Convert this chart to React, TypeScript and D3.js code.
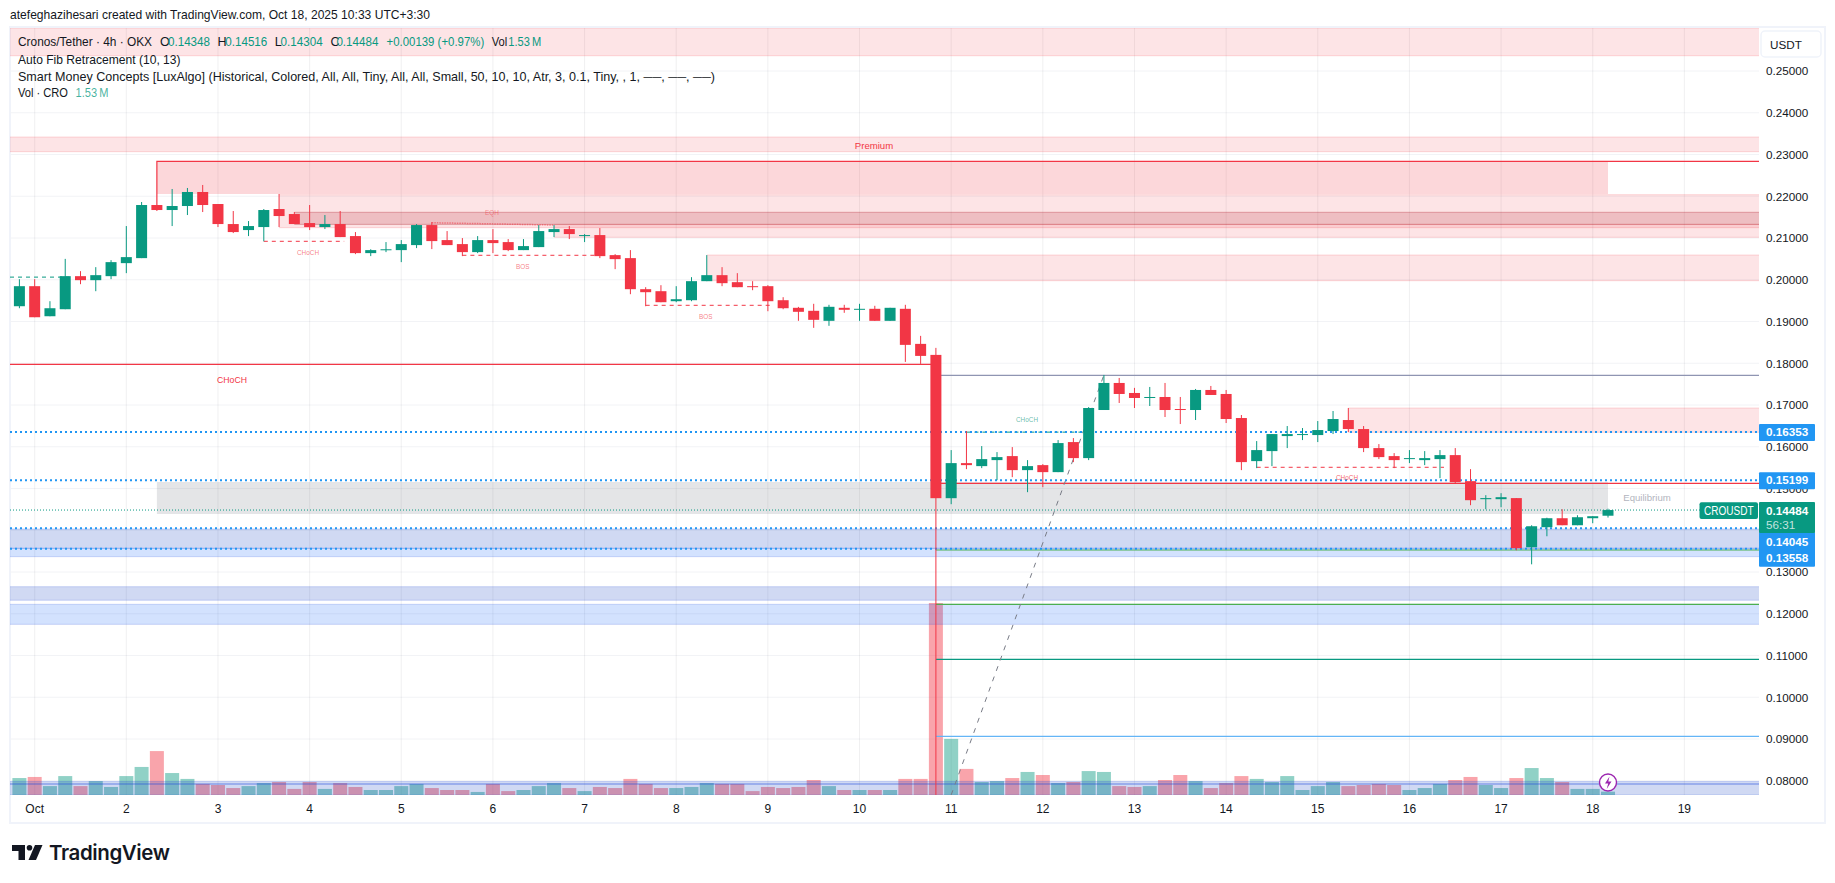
import React from "react";
import * as d3 from "d3";

const opens = [.19366,.19846,.19126,.19294,.20086,.1999,.20086,.20398,.20518,.2179,.2167,.21766,.22102,.21814,.21334,.2119,.21262,.21694,.21574,.21358,.21262,.21334,.21046,.20638,.20706,.2071,.2083,.2131,.2095,.20854,.20662,.2095,.20902,.2071,.20782,.21142,.21214,.21046,.2107,.2059,.20518,.19774,.19726,.19486,.1951,.19966,.2011,.19942,.19846,.19846,.1951,.19328,.19256,.19016,.19328,.1928,.19304,.19016,.19304,.18464,.182,.14768,.15608,.15536,.1568,.15776,.1544,.1556,.15392,.16112,.15728,.1688,.17528,.17288,.17168,.17192,.16904,.1688,.1736,.17264,.16688,.15656,.15896,.16256,.1628,.1628,.16376,.1664,.16424,.15968,.15776,.15704,.1568,.15704,.158,.15176,.14744,.14744,.1477,.13592,.14072,.14288,.1412,.14288,.14348];
const closes = [.19846,.19102,.19318,.20086,.1999,.2011,.20422,.20542,.2179,.2167,.21766,.22102,.2179,.21334,.21142,.21286,.2167,.21526,.21334,.21262,.21334,.21022,.20638,.2071,.2073,.20854,.2131,.20926,.2083,.20662,.2095,.20878,.2071,.20806,.21166,.21214,.21094,.2107,.20566,.20494,.19774,.19702,.19462,.19534,.19966,.2011,.19918,.19822,.19822,.19486,.19318,.19232,.1904,.19352,.1928,.19304,.19016,.19328,.1844,.18176,.14768,.15608,.1556,.15704,.15752,.1544,.15536,.15392,.16088,.15728,.16928,.17528,.17264,.17168,.17192,.1688,.1688,.1736,.1724,.16664,.15632,.1592,.16304,.16304,.16304,.164,.16664,.16424,.15968,.15752,.1568,.15728,.15728,.158,.15152,.1472,.1477,.14792,.1357,.14096,.14288,.1412,.14312,.14336,.14484];
const highs = [.20014,.20014,.19486,.2050,.20206,.20302,.2047,.21286,.21862,.2179,.22174,.22198,.2227,.21814,.21646,.21406,.21694,.22054,.21622,.2179,.2155,.21646,.21142,.2073,.20902,.2095,.21334,.21382,.21166,.20998,.21046,.21214,.20974,.20974,.2131,.2131,.21286,.21094,.21238,.20614,.2071,.19822,.1987,.19846,.20062,.2059,.20302,.20158,.19966,.1987,.19582,.1935,.19424,.194,.194,.19424,.19376,.19328,.194,.18656,.18368,.1592,.16376,.16016,.15872,.15992,.1568,.15584,.1616,.16208,.1695,.1772,.17648,.1741,.17432,.17528,.17192,.17384,.17456,.1736,.1676,.16136,.16304,.16496,.16448,.16616,.16856,.16928,.16496,.16064,.15848,.1592,.15896,.1592,.15968,.15464,.1484,.14888,.1477,.1412,.143,.14504,.1436,.14336,.14516];
const lows = [.19318,.19102,.19126,.19294,.19894,.19726,.20014,.20158,.20518,.21646,.21286,.2155,.21622,.21262,.21118,.21046,.2092,.21262,.21334,.2119,.21214,.21022,.20614,.20566,.20662,.20422,.20758,.20734,.2083,.20566,.20638,.20638,.20686,.2071,.20782,.21022,.20974,.20902,.20518,.20254,.19654,.19366,.19462,.19462,.19486,.19966,.19846,.19822,.1975,.19246,.19294,.19016,.18848,.18896,.19208,.19016,.19016,.19016,.18032,.17984,.0766,.14624,.15464,.15488,.152,.15272,.14912,.15032,.15392,.15632,.1568,.1688,.17048,.16928,.16976,.16712,.16544,.1664,.1724,.16568,.1544,.15488,.15536,.15968,.1616,.16112,.16304,.16352,.15872,.15704,.15488,.15608,.1556,.15248,.15128,.146,.14504,.14552,.1352,.13184,.13856,.1412,.1412,.14168,.14304];
const volumes = [7.8,8.3,4.1,8.7,4.1,6.4,3.7,8.7,12.9,20.2,10.1,7.4,5.1,4.6,3.2,4.1,5.5,6,2.8,6,2.8,5.5,3.7,2.3,2.3,4.1,5.1,3.2,2.3,2.3,1.4,5.1,1.8,2.3,4.1,5.5,3.2,1.8,3.7,3.2,7.4,5.1,3.2,3.2,3.7,5.5,5.1,5.1,1.8,3.7,3.2,3.7,6.9,4.1,2.3,2.3,2.3,2.3,7.4,7.4,88.3,25.8,12,6,6.4,7.8,10.6,9.2,5.5,6,11,10.6,4.1,3.7,4.1,6.9,9.2,6.4,3.2,5.5,8.7,7.4,6,8.7,2.3,4.1,6,4.1,4.6,5.1,4.6,2.3,3.2,5.1,6.9,8.3,4.6,3.2,7.8,12.4,7.8,6,2.8,2.8,1.53];

const priceTicks = [.25,.24,.23,.22,.21,.20,.19,.18,.17,.16,.15,.14,.13,.12,.11,.10,.09,.08];
const dayLabels = ["Oct","2","3","4","5","6","7","8","9","10","11","12","13","14","15","16","17","18","19"];

// zones: start bar (null = left edge), upper price, lower price
const redZoneStart = [null, null, 17, 35, 45, 87];
const redZoneTop = [.2603, .23419, .22037, .21326, .20593, .16928];
const redZoneBottom = [.25366, .23067, .21247, .21017, .19977, .16346];
const blueZoneTop = [.1403, .13567, .12648, .12226, .07982];
const blueZoneBottom = [.13567, .13367, .12323, .11747, .0766];
const blueZoneFill = ["rgba(33,76,200,0.21)", "rgba(33,110,250,0.2)", "rgba(33,76,200,0.21)", "rgba(33,110,250,0.2)", "rgba(33,76,200,0.21)"];

const fibPrices = [.17711, .15125, .13527, .12226, .10909, .09065];
const fibColors = ["#8f95b2", "#f23645", "#4caf50", "#4caf50", "#089981", "#64b5f6"];
const dottedLevels = [.16353, .15199, .14045, .13558];
const levelLabels = ["0.16353", "0.15199", "0.14045", "0.13558"];

const structBars = [[-1, 3], [16, 21], [29, 38], [41, 49], [62, 70], [81, 93]];
const structPrice = [.20063, .20921, .20586, .19388, .1635, .15508];
const structColor = ["#089981", "#f23645", "#f23645", "#f23645", "#089981", "#f23645"];
const structText = ["", "CHoCH", "BOS", "BOS", "CHoCH", "CHoCH"];

const W = 1835, H = 883;
const FONT = "'Liberation Sans', Arial, sans-serif";
const PL = 10, PR = 1759, PT = 28, PB = 795;

const y = d3.scaleLinear().domain([.25, .08]).range([71, 780.75]);
const x = d3.scaleLinear().domain([0, 1]).range([19.4, 34.675]);
const vy = d3.scaleLinear().domain([0, 88.3]).range([PB, 603]);

const UP = "#089981", DOWN = "#f23645";
const isUp = (i: number) => closes[i] >= opens[i];
const seg = d3.line<[number, number]>().x(d => d[0]).y(d => d[1]);
const tagLabelY = [y(.16353) + 4.3, y(.15199) + 4.3, 546, 562.3];

function Zone({ x0, x1, top, bottom, fill, stroke }: any) {
  return <g>
    <rect x={x0} y={y(top)} width={x1 - x0} height={y(bottom) - y(top)} fill={fill} />
    <line x1={x0} x2={x1} y1={y(top)} y2={y(top)} stroke={stroke} />
    <line x1={x0} x2={x1} y1={y(bottom)} y2={y(bottom)} stroke={stroke} />
  </g>;
}

function T({ x: tx, y: ty, w, fill, children }: any) {
  return <text x={tx} y={ty} fill={fill} textLength={w} lengthAdjust="spacingAndGlyphs">{children}</text>;
}

export default function App() {
  const idx = d3.range(opens.length);
  return (
    <svg width={W} height={H} viewBox={`0 0 ${W} ${H}`} style={{ position: "absolute", left: 0, top: 0, display: "block", background: "#fff" }} fontFamily={FONT}>
      <defs><clipPath id="pane"><rect x={PL} y={PT} width={PR - PL} height={PB - PT} /></clipPath></defs>

      <text x={10} y={19} fontSize={13} fill="#131722" textLength={420} lengthAdjust="spacingAndGlyphs">atefeghazihesari created with TradingView.com, Oct 18, 2025 10:33 UTC+3:30</text>
      <rect x={10} y={27} width={1815} height={796} fill="none" stroke="#f0f3fa" strokeWidth={2} />

      {/* grid */}
      {priceTicks.map(t => <line key={t} x1={PL} x2={PR} y1={y(t)} y2={y(t)} stroke="#f2f3f6" strokeWidth={1} />)}
      {dayLabels.map((d, k) => <line key={d} x1={x(1 + 6 * k)} x2={x(1 + 6 * k)} y1={PT} y2={PB} stroke="rgba(42,46,57,0.07)" strokeWidth={1} />)}

      {/* volume */}
      {idx.map(i => <rect key={i} x={x(i) - 7} y={vy(volumes[i])} width={14} height={PB - vy(volumes[i])} fill={isUp(i) ? "rgba(8,153,129,0.45)" : "rgba(242,54,69,0.45)"} />)}

      <g clipPath="url(#pane)">
        {/* premium / supply zones */}
        {redZoneTop.map((t, i) => {
          const s = redZoneStart[i];
          return <Zone key={i} x0={s === null ? PL : x(s)} x1={PR} top={t} bottom={redZoneBottom[i]} fill="rgba(242,54,69,0.135)" stroke="rgba(242,54,69,0.18)" />;
        })}
        <Zone x0={x(18)} x1={PR} top={.21616} bottom={.21326} fill="rgba(178,40,51,0.2)" stroke="rgba(178,40,51,0.35)" />
        <rect x={x(9)} y={y(.22837)} width={x(104) - x(9)} height={y(.22054) - y(.22837)} fill="rgba(242,54,69,0.2)" />
        <path d={seg([[x(9), y(.2179)], [x(9), y(.22837)], [PR, y(.22837)]])!} fill="none" stroke="#f23645" strokeWidth={1.2} />

        {/* equilibrium and demand zones */}
        <rect x={x(9)} y={y(.15156)} width={x(104) - x(9)} height={y(.14389) - y(.15156)} fill="rgba(120,123,134,0.2)" />
        {blueZoneTop.map((t, i) => <Zone key={i} x0={PL} x1={PR} top={t} bottom={blueZoneBottom[i]} fill={blueZoneFill[i]} stroke="rgba(33,76,220,0.2)" />)}
        <line x1={PL} x2={PR} y1={y(.07922)} y2={y(.07922)} stroke="rgba(33,76,220,0.4)" strokeWidth={1.5} />

        {/* fib and structure lines */}
        <line x1={PL} x2={x(60)} y1={y(.17975)} y2={y(.17975)} stroke="#f23645" strokeWidth={1.2} />
        {fibPrices.map((p, i) => <line key={i} x1={x(60)} x2={PR} y1={y(p)} y2={y(p)} stroke={fibColors[i]} strokeWidth={1.2} />)}
        <path d={seg([[x(61), y(.0766)], [x(71), y(.1772)]])!} stroke="#787b86" strokeWidth={1} strokeDasharray="5 6" fill="none" />
        {structPrice.map((p, i) => <line key={i} x1={structBars[i][0] < 0 ? PL : x(structBars[i][0])} x2={x(structBars[i][1]) + 4} y1={y(p)} y2={y(p)} stroke={structColor[i]} strokeWidth={1} strokeDasharray="4 4" />)}
        <line x1={x(27)} x2={x(35)} y1={y(.21366)} y2={y(.21311)} stroke="rgba(242,54,69,0.55)" strokeWidth={1.5} strokeDasharray="1.5 1" />

        {/* levels */}
        {dottedLevels.map(p => <line key={p} x1={PL} x2={PR} y1={y(p)} y2={y(p)} stroke="#2196f3" strokeWidth={2} strokeDasharray="2 3" />)}
        <line x1={PL} x2={PR} y1={y(.14484)} y2={y(.14484)} stroke="#089981" strokeWidth={1} strokeDasharray="1 2" />

        {/* candles */}
        {idx.map(i => {
          const c = isUp(i) ? UP : DOWN;
          const top = y(Math.max(opens[i], closes[i]));
          const bot = y(Math.min(opens[i], closes[i]));
          return <g key={i}>
            <line x1={x(i)} x2={x(i)} y1={y(highs[i])} y2={y(lows[i])} stroke={c} strokeWidth={1} />
            <rect x={x(i) - 5.5} y={top} width={11} height={Math.max(bot - top, 1)} fill={c} />
          </g>;
        })}
      </g>

      {/* zone labels */}
      <text x={874} y={149} fontSize={9.6} fill="#f23645" textAnchor="middle">Premium</text>
      <text x={232} y={383} fontSize={8.7} fill="#f23645" textAnchor="middle">CHoCH</text>
      <text x={1647} y={501} fontSize={9.6} fill="#b2b5be" textAnchor="middle">Equilibrium</text>
      <text x={492} y={214.5} fontSize={6.4} fill="rgba(242,54,69,0.55)" textAnchor="middle">EQH</text>
      <text x={308} y={255} fontSize={6.4} fill="rgba(242,54,69,0.65)" textAnchor="middle">{structText[1]}</text>
      <text x={522.7} y={269} fontSize={6.4} fill="rgba(242,54,69,0.65)" textAnchor="middle">{structText[2]}</text>
      <text x={705.7} y={319} fontSize={6.4} fill="rgba(242,54,69,0.65)" textAnchor="middle">{structText[3]}</text>
      <text x={1027} y={422} fontSize={6.4} fill="rgba(8,153,129,0.65)" textAnchor="middle">{structText[4]}</text>
      <text x={1347} y={480.3} fontSize={6.4} fill="rgba(242,54,69,0.8)" textAnchor="middle">{structText[5]}</text>

      {/* legend */}
      <g fontSize={12.6} fill="#131722">
        <T x={18} y={46} w={134}>Cronos/Tether · 4h · OKX</T>
        <text x={160} y={46}>O</text><T x={168} y={46} w={42} fill={UP}>0.14348</T>
        <text x={217.4} y={46}>H</text><T x={225.3} y={46} w={42} fill={UP}>0.14516</T>
        <text x={274.7} y={46}>L</text><T x={280.6} y={46} w={42} fill={UP}>0.14304</T>
        <text x={330.4} y={46}>C</text><T x={336.4} y={46} w={42} fill={UP}>0.14484</T>
        <T x={386.6} y={46} w={97.6} fill={UP}>+0.00139 (+0.97%)</T>
        <T x={491.7} y={46} w={15.5}>Vol</T><T x={508.3} y={46} w={33} fill={UP}>{"1.53\u202FM"}</T>
        <T x={18} y={63.5} w={162.6}>Auto Fib Retracement (10, 13)</T>
        <T x={18} y={80.5} w={697}>Smart Money Concepts [LuxAlgo] (Historical, Colored, All, All, Tiny, All, All, Small, 50, 10, 10, Atr, 3, 0.1, Tiny, , 1, ──, ──, ──)</T>
        <T x={18} y={97} w={50}>Vol · CRO</T>
        <T x={75.5} y={97} w={33} fill={"rgba(8,153,129,0.75)"}>{"1.53\u202FM"}</T>
      </g>

      {/* price axis */}
      <g fontSize={11.7} fill="#131722">
        {priceTicks.map(t => <text key={t} x={1766} y={y(t) + 4.3}>{t.toFixed(5)}</text>)}
      </g>
      <rect x={1761} y={31} width={60} height={26} rx={4} fill="#fff" stroke="#f0f3fa" strokeWidth={1.5} />
      <text x={1770} y={49} fontSize={11.7} fill="#131722">USDT</text>

      {/* price tags */}
      <rect x={PR} y={y(dottedLevels[0]) - 8} width={56} height={17} fill="#2196f3" rx={1} />
      <rect x={PR} y={y(dottedLevels[1]) - 8} width={56} height={17} fill="#2196f3" rx={1} />
      <rect x={PR} y={532} width={56} height={34.7} fill="#2196f3" rx={1} />
      <rect x={PR} y={502} width={56} height={31} fill={UP} rx={1} />
      {dottedLevels.map((p, i) => <text key={p} x={1766} y={tagLabelY[i]} fontSize={11.7} fontWeight={700} fill="#fff">{levelLabels[i]}</text>)}
      <text x={1766} y={514.5} fontSize={11.7} fontWeight={700} fill="#fff">0.14484</text>
      <text x={1766} y={529} fontSize={11.7} fill="rgba(255,255,255,0.75)">56:31</text>
      <rect x={1699.5} y={502.3} width={58.5} height={16.6} fill={UP} rx={2} />
      <text x={1704} y={515} fontSize={12} fill="#fff" textLength={49.5} lengthAdjust="spacingAndGlyphs">CROUSDT</text>

      {/* time axis */}
      <g fontSize={12} fill="#131722" textAnchor="middle">
        {dayLabels.map((d, k) => <text key={d} x={x(1 + 6 * k)} y={813}>{d}</text>)}
      </g>

      {/* event marker */}
      <circle cx={x(104)} cy={782.5} r={8.5} fill="#fff" stroke="#9c27b0" strokeWidth={1.4} />
      <path d={`M${x(104) + 1.5} 776.5 l-4.5 7 h3.2 l-1.5 5.5 l4.8 -7.5 h-3.2 z`} fill="#9c27b0" />

      {/* logo */}
      <g fill="#131722">
        <path d="M12 845 h13 v15 h-6.5 v-9 h-6.5 z" />
        <circle cx={29.5} cy={847.8} r={2.8} />
        <path d="M35 845 h7.5 l-6.5 15 h-7.5 z" />
        <text x={49} y={860} fontFamily="Inter, sans-serif" fontWeight={600} fontSize={20.5} letterSpacing={-0.4}>TradingView</text>
      </g>
    </svg>
  );
}
